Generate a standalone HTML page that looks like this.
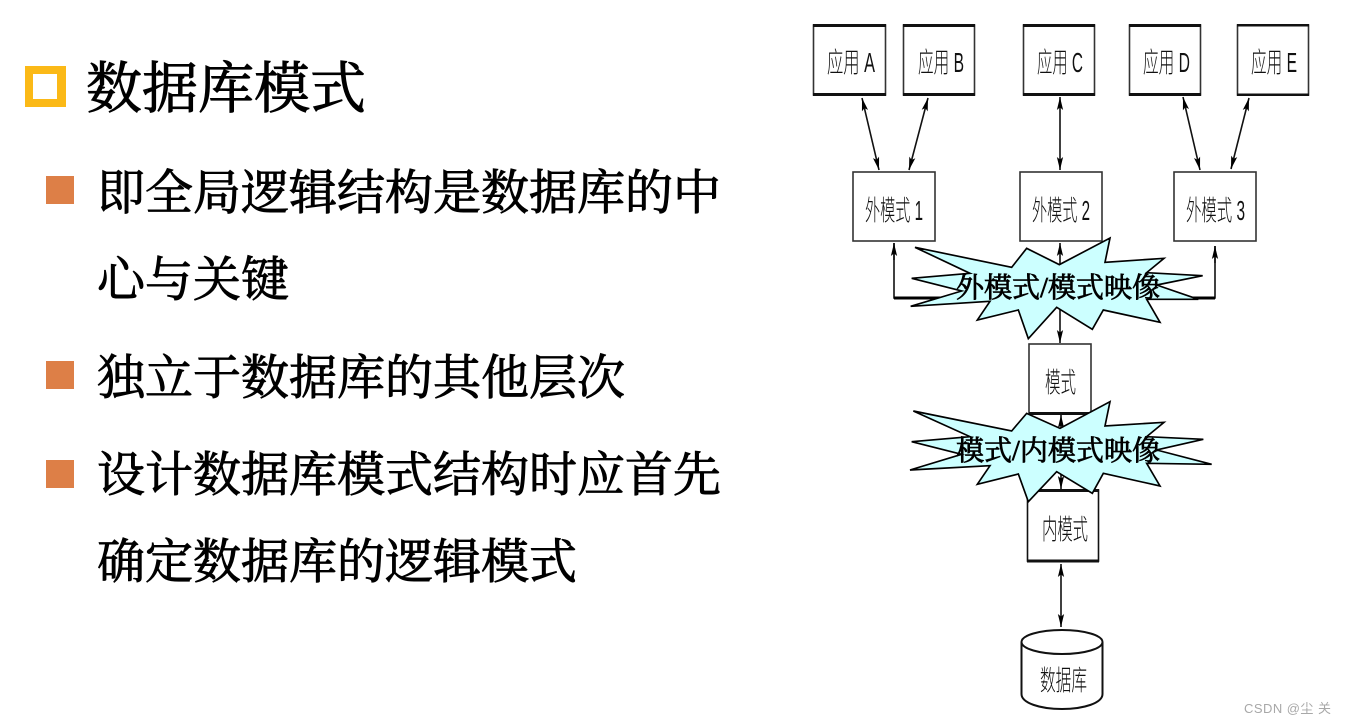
<!DOCTYPE html>
<html lang="zh">
<head>
<meta charset="utf-8">
<style>
html,body{margin:0;padding:0;background:#fff}
body{width:1346px;height:724px;overflow:hidden;position:relative}
svg{position:absolute;left:0;top:0}
.t{font-family:"Liberation Serif","Noto Serif CJK SC",serif;fill:#000;stroke:#000;stroke-width:.9px}
.b{font-family:"Liberation Sans","Noto Sans CJK SC",sans-serif;font-size:28px;fill:#111;font-weight:300}
.s{font-family:"Liberation Serif","Noto Serif CJK SC",serif;font-size:28px;fill:#000;stroke:#000;stroke-width:.8px}
.l{stroke:#111;stroke-width:1.6;fill:none}
.box{fill:#fff;stroke:#333;stroke-width:1.6}
</style>
</head>
<body>
<svg width="1346" height="724" viewBox="0 0 1346 724" xmlns="http://www.w3.org/2000/svg">
<defs>
<marker id="a" viewBox="0 0 10 6" refX="10" refY="3" markerWidth="13" markerHeight="7.8" orient="auto-start-reverse" markerUnits="userSpaceOnUse"><path d="M0 .6L10 3L0 5.4L2 3z" fill="#000"/></marker>
</defs>

<rect x="25" y="66" width="41" height="41" fill="#fbb917"/>
<rect x="33" y="74" width="24" height="25" fill="#fff"/>
<rect x="46" y="176" width="28" height="28" fill="#dd7f47"/>
<rect x="46" y="361" width="28" height="28" fill="#dd7f47"/>
<rect x="46" y="460" width="28" height="28" fill="#dd7f47"/>

<text class="t" x="86" y="108" font-size="56">数据库模式</text>
<text class="t" x="97" y="209" font-size="48">即全局逻辑结构是数据库的中</text>
<text class="t" x="97" y="296" font-size="48">心与关键</text>
<text class="t" x="97" y="394" font-size="48">独立于数据库的其他层次</text>
<text class="t" x="97" y="491" font-size="48">设计数据库模式结构时应首先</text>
<text class="t" x="97" y="578" font-size="48">确定数据库的逻辑模式</text>

<g class="box">
<rect x="813.5" y="25" width="72" height="70"/>
<rect x="903.5" y="25" width="71" height="70"/>
<rect x="1023.5" y="25" width="71" height="70"/>
<rect x="1129.5" y="25" width="71" height="70"/>
<rect x="1237.5" y="25" width="71" height="70"/>
<rect x="853" y="172" width="82" height="69"/>
<rect x="1020" y="172" width="82" height="69"/>
<rect x="1174" y="172" width="82" height="69"/>
<rect x="1029" y="344" width="62" height="69"/>
<rect x="1027.5" y="490" width="71" height="71" stroke="#111"/>
</g>
<g fill="#111">
<rect x="813" y="24" width="73" height="3"/><rect x="813" y="93" width="73" height="3"/>
<rect x="903" y="24" width="72" height="3"/><rect x="903" y="93" width="72" height="3"/>
<rect x="1023" y="24" width="72" height="3"/><rect x="1023" y="93" width="72" height="3"/>
<rect x="1129" y="24" width="72" height="3"/><rect x="1129" y="93" width="72" height="3"/>
<rect x="1237" y="24" width="72" height="2.5"/><rect x="1237" y="93.5" width="72" height="2.5"/>
<rect x="1029" y="412" width="62" height="3"/>
<rect x="1027" y="489" width="72" height="3"/><rect x="1027" y="559.500" width="72" height="3"/>
</g>

<g class="l">
<line x1="862" y1="98" x2="879" y2="170" marker-start="url(#a)" marker-end="url(#a)"/>
<line x1="928" y1="98" x2="909" y2="170" marker-start="url(#a)" marker-end="url(#a)"/>
<line x1="1060" y1="97" x2="1060" y2="170" marker-start="url(#a)" marker-end="url(#a)"/>
<line x1="1183" y1="97" x2="1200" y2="170" marker-start="url(#a)" marker-end="url(#a)"/>
<line x1="1249" y1="98" x2="1231" y2="169" marker-start="url(#a)" marker-end="url(#a)"/>
<polyline points="894,243 894,298 1215,298 1215,246"/>
<line x1="894" y1="243" x2="894" y2="260" marker-start="url(#a)"/>
<line x1="1215" y1="246" x2="1215" y2="263" marker-start="url(#a)"/>
<line x1="1060" y1="243" x2="1060" y2="343" marker-start="url(#a)" marker-end="url(#a)"/>
<line x1="1061" y1="415" x2="1061" y2="489" marker-start="url(#a)" marker-end="url(#a)"/>
<line x1="1061" y1="564" x2="1061" y2="627" marker-start="url(#a)" marker-end="url(#a)"/>
</g>
<rect x="894" y="296.500" width="321" height="3" fill="#000"/>

<polygon transform="translate(890 230) scale(.33333)" fill="#ccffff" stroke="#000" stroke-width="5" stroke-linejoin="miter"
 points="75,52 365,112 410,55 508,104 660,24 645,97 822,85 770,128 938,137 800,165 925,208 770,208 810,277 640,240 607,298 500,232 415,326 385,240 262,270 300,214 62,229 215,183 65,145 240,130"/>
<polygon transform="translate(890 395) scale(.33333)" fill="#ccffff" stroke="#000" stroke-width="5" stroke-linejoin="miter"
 points="70,48 365,108 410,55 510,100 660,20 645,93 822,82 770,125 940,133 800,165 965,208 770,205 810,273 640,235 607,295 500,230 415,320 385,237 262,268 300,212 60,225 215,178 65,140 240,125"/>

<g>
<path d="M1021.5 642V694C1021.5 703 1040 709 1062 709S1102.5 703 1102.5 694V642" fill="#fff" stroke="#111" stroke-width="2"/>
<ellipse cx="1062" cy="642" rx="40.500" ry="12" fill="#fff" stroke="#111" stroke-width="2"/>
</g>

<g class="b">
<text x="827" y="72" textLength="48" lengthAdjust="spacingAndGlyphs">应用 A</text>
<text x="918" y="72" textLength="46" lengthAdjust="spacingAndGlyphs">应用 B</text>
<text x="1037" y="72" textLength="46" lengthAdjust="spacingAndGlyphs">应用 C</text>
<text x="1143" y="72" textLength="47" lengthAdjust="spacingAndGlyphs">应用 D</text>
<text x="1251" y="72" textLength="46" lengthAdjust="spacingAndGlyphs">应用 E</text>
<text x="865" y="220" textLength="58" lengthAdjust="spacingAndGlyphs">外模式 1</text>
<text x="1032" y="220" textLength="58" lengthAdjust="spacingAndGlyphs">外模式 2</text>
<text x="1186" y="220" textLength="59" lengthAdjust="spacingAndGlyphs">外模式 3</text>
<text x="1045" y="392" textLength="31" lengthAdjust="spacingAndGlyphs">模式</text>
<text x="1042" y="539" textLength="46" lengthAdjust="spacingAndGlyphs">内模式</text>
<text x="1040" y="690" textLength="47" lengthAdjust="spacingAndGlyphs">数据库</text>
</g>

<text class="s" x="956" y="297" textLength="204" lengthAdjust="spacingAndGlyphs">外模式/模式映像</text>
<text class="s" x="956" y="460" textLength="204" lengthAdjust="spacingAndGlyphs">模式/内模式映像</text>

<text x="1244" y="713" font-size="13" fill="#a8a8a8" textLength="87" font-family="Liberation Sans,Noto Sans CJK SC,sans-serif">CSDN @尘 关</text>
</svg>
</body>
</html>
